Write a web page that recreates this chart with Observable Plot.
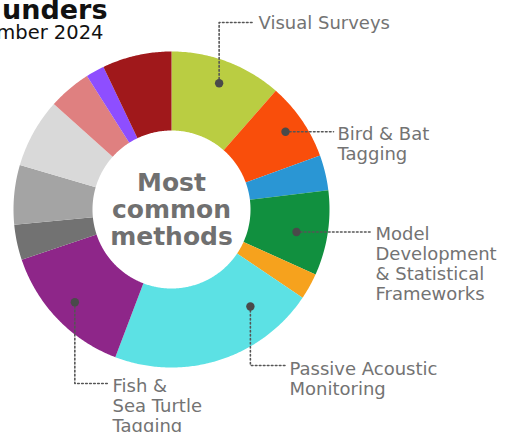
<!DOCTYPE html>
<html>
<head>
<meta charset="utf-8">
<script src="https://cdn.jsdelivr.net/npm/d3@7"></script>
<script src="https://cdn.jsdelivr.net/npm/@observablehq/plot@0.6"></script>
<style>
  html, body { margin: 0; padding: 0; background: #fff; }
  #chart svg { display: block; }
</style>
</head>
<body>
<div id="chart"></div>
<script>
// ---- data (shares of the ring, clockwise from 12 o'clock) ----
const categories = [
  "Visual Surveys",
  "Bird & Bat Tagging",
  "Method C",
  "Model Development & Statistical Frameworks",
  "Method E",
  "Passive Acoustic Monitoring",
  "Fish & Sea Turtle Tagging",
  "Method H",
  "Method I",
  "Method J",
  "Method K",
  "Method L",
  "Method M"
];
const values = [11.5, 8.0, 3.6, 8.7, 2.7, 21.4, 14.1, 3.6, 6.1, 7.1, 4.4, 1.9, 7.1];
const colors = [
  "#bacd42", "#f94e0b", "#2a96d4", "#11903f", "#f6a21d", "#5ce1e4", "#8e2689",
  "#727272", "#a4a4a4", "#d9d9d9", "#df8080", "#8e4eff", "#a0181b"
];
const labelLines = {
  "Visual Surveys": "Visual Surveys",
  "Bird & Bat Tagging": "Bird & Bat\nTagging",
  "Model Development & Statistical Frameworks": "Model\nDevelopment\n& Statistical\nFrameworks",
  "Passive Acoustic Monitoring": "Passive Acoustic\nMonitoring",
  "Fish & Sea Turtle Tagging": "Fish &\nSea Turtle\nTagging"
};
const centerText = "Most\ncommon\nmethods";
const titleText = "unders";
const subtitleText = "mber 2024";

// ---- layout ----
const W = 508, H = 432;
const cx = 171, cy = 209;          // ring centre in pixels
const R = 158, R0 = 79;            // outer / inner radius
const px = (v) => v - cx;          // pixel -> data helpers for annotation layout
const py = (v) => v - cy;

const arcs = d3.pie().sort(null).value((d, i) => values[i]).startAngle(0).endAngle(2 * Math.PI)(categories);

// polygon outline of every slice
const ring = [];
arcs.forEach((a, i) => {
  const key = categories[i];
  const n = Math.max(4, Math.ceil((a.endAngle - a.startAngle) / 0.01));
  for (let k = 0; k <= n; k++) {
    const t = a.startAngle + (a.endAngle - a.startAngle) * k / n;
    ring.push({key, x: R * Math.sin(t), y: -R * Math.cos(t)});
  }
  for (let k = n; k >= 0; k--) {
    const t = a.startAngle + (a.endAngle - a.startAngle) * k / n;
    ring.push({key, x: R0 * Math.sin(t), y: -R0 * Math.cos(t)});
  }
});

// annotation layout: where along the slice the dot sits, and where the label goes
const annot = [
  {key: "Visual Surveys", frac: 0.5, r: 135, route: "up", elbowY: 22, lineEndX: 253, textX: 258, baseline: 27},
  {key: "Bird & Bat Tagging", frac: 0.5, r: 138, route: "flat", lineEndX: 333, textX: 337, baseline: 138},
  {key: "Model Development & Statistical Frameworks", frac: 0.55, r: 127, route: "flat", lineEndX: 370, textX: 375, baseline: 238},
  {key: "Passive Acoustic Monitoring", frac: 0.22, r: 125, route: "down", elbowY: 365, lineEndX: 285, textX: 289, baseline: 373},
  {key: "Fish & Sea Turtle Tagging", frac: 0.5, r: 134, route: "down", elbowY: 383, lineEndX: 108, textX: 112, baseline: 390}
];
const fs = 18, lh = 20;
const dots = [], leaders = [], labels = [];
annot.forEach(an => {
  const a = arcs[categories.indexOf(an.key)];
  const t = a.startAngle + (a.endAngle - a.startAngle) * an.frac;
  const dx = an.r * Math.sin(t), dy = -an.r * Math.cos(t);
  dots.push({key: an.key, x: dx, y: dy});
  if (an.route === "flat") {
    leaders.push({key: an.key, x: dx, y: dy}, {key: an.key, x: px(an.lineEndX), y: dy});
  } else {
    leaders.push({key: an.key, x: dx, y: dy}, {key: an.key, x: dx, y: py(an.elbowY)},
                 {key: an.key, x: px(an.lineEndX), y: py(an.elbowY)});
  }
  labels.push({key: an.key, text: labelLines[an.key], x: px(an.textX), y: py(an.baseline) - 0.71 * fs});
});

const chart = Plot.plot({
  width: W,
  height: H,
  margin: 0,
  x: {type: "linear", domain: [px(0), px(W)], range: [0, W], axis: null},
  y: {type: "linear", domain: [py(0), py(H)], range: [0, H], axis: null},
  color: {domain: categories, range: colors},
  style: {background: "#fff", overflow: "hidden"},
  marks: [
    Plot.line(ring, {x: "x", y: "y", z: "key", fill: "key", stroke: "none", curve: "linear-closed"}),
    Plot.text([centerText], {x: () => 0, y: () => 0, text: d => d, fontSize: 25, fontWeight: "bold",
      fontFamily: "DejaVu Sans", fill: "#707070", lineHeight: 1.08, textAnchor: "middle", lineAnchor: "middle"}),
    Plot.line(leaders, {x: "x", y: "y", z: "key", stroke: "#555", strokeWidth: 1.6, strokeDasharray: "1.6,2.4"}),
    Plot.dot(dots, {x: "x", y: "y", r: 4.2, fill: "#4a4a4a", stroke: "none"}),
    Plot.text(labels, {x: "x", y: "y", text: "text", fontSize: fs, lineHeight: lh / fs,
      fontFamily: "DejaVu Sans", fill: "#737373", textAnchor: "start", lineAnchor: "top"}),
    Plot.text([titleText], {x: () => px(107), y: () => py(18), text: d => d, fontSize: 27, fontWeight: "bold",
      fontFamily: "DejaVu Sans", fill: "#111", textAnchor: "end", lineAnchor: "bottom"}),
    Plot.text([subtitleText], {x: () => px(103), y: () => py(38), text: d => d, fontSize: 19.5,
      fontFamily: "DejaVu Sans", fill: "#111", textAnchor: "end", lineAnchor: "bottom"})
  ]
});
document.getElementById("chart").appendChild(chart);
</script>
</body>
</html>
